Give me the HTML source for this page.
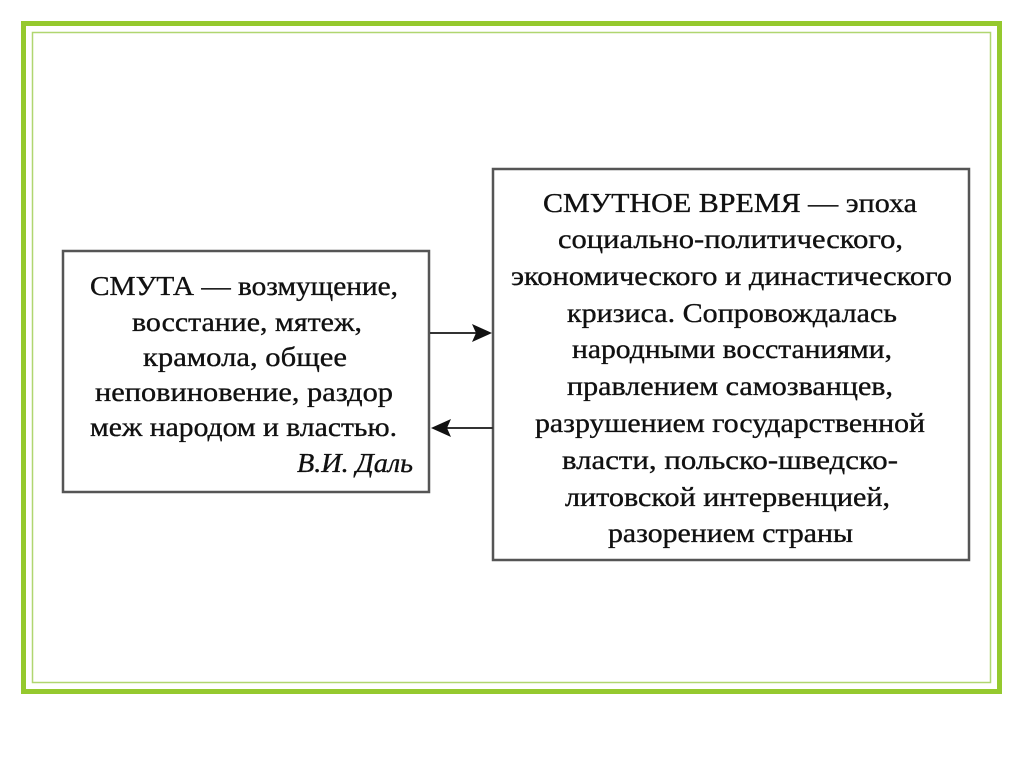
<!DOCTYPE html>
<html><head><meta charset="utf-8"><style>
html,body{margin:0;padding:0;background:#fff;}
svg{display:block;}
text{font-family:"Liberation Serif","DejaVu Serif",serif;font-size:27px;fill:#111;stroke:#111;stroke-width:0.35px;}
</style></head><body>
<svg width="1024" height="767" viewBox="0 0 1024 767">
<rect x="0" y="0" width="1024" height="767" fill="#fff"/>
<rect x="23.5" y="23.5" width="976" height="668" fill="none" stroke="#95c92e" stroke-width="5"/>
<rect x="32.5" y="32.5" width="958" height="650" fill="none" stroke="#b0d670" stroke-width="1.5"/>
<rect x="63" y="251" width="366" height="241" fill="#fff" stroke="#555" stroke-width="2.5"/>
<rect x="493" y="169" width="476" height="391" fill="#fff" stroke="#555" stroke-width="2.5"/>
<line x1="430" y1="333" x2="478" y2="333" stroke="#333" stroke-width="2"/>
<polygon points="492,333 472,324 476,333 472,342" fill="#111"/>
<line x1="446" y1="428" x2="493" y2="428" stroke="#333" stroke-width="2"/>
<polygon points="431,428 451,419 447,428 451,437" fill="#111"/>
<g>
<text x="90" y="295" textLength="308" lengthAdjust="spacingAndGlyphs">СМУТА — возмущение,</text>
<text x="132" y="331" textLength="230" lengthAdjust="spacingAndGlyphs">восстание, мятеж,</text>
<text x="143" y="366" textLength="204" lengthAdjust="spacingAndGlyphs">крамола, общее</text>
<text x="95" y="401" textLength="298" lengthAdjust="spacingAndGlyphs">неповиновение, раздор</text>
<text x="90" y="436" textLength="307" lengthAdjust="spacingAndGlyphs">меж народом и властью.</text>
<text x="297" y="472" textLength="116" lengthAdjust="spacingAndGlyphs" font-style="italic">В.И. Даль</text>
</g>
<g>
<text x="543" y="212" textLength="374" lengthAdjust="spacingAndGlyphs">СМУТНОЕ ВРЕМЯ — эпоха</text>
<text x="558" y="248" textLength="345" lengthAdjust="spacingAndGlyphs">социально-политического,</text>
<text x="511" y="285" textLength="441" lengthAdjust="spacingAndGlyphs">экономического и династического</text>
<text x="567" y="322" textLength="330" lengthAdjust="spacingAndGlyphs">кризиса. Сопровождалась</text>
<text x="572" y="358" textLength="320" lengthAdjust="spacingAndGlyphs">народными восстаниями,</text>
<text x="567" y="395" textLength="326" lengthAdjust="spacingAndGlyphs">правлением самозванцев,</text>
<text x="535" y="432" textLength="390" lengthAdjust="spacingAndGlyphs">разрушением государственной</text>
<text x="562" y="469" textLength="336" lengthAdjust="spacingAndGlyphs">власти, польско-шведско-</text>
<text x="565" y="506" textLength="325" lengthAdjust="spacingAndGlyphs">литовской интервенцией,</text>
<text x="608" y="542" textLength="245" lengthAdjust="spacingAndGlyphs">разорением страны</text>
</g>
</svg>
</body></html>
